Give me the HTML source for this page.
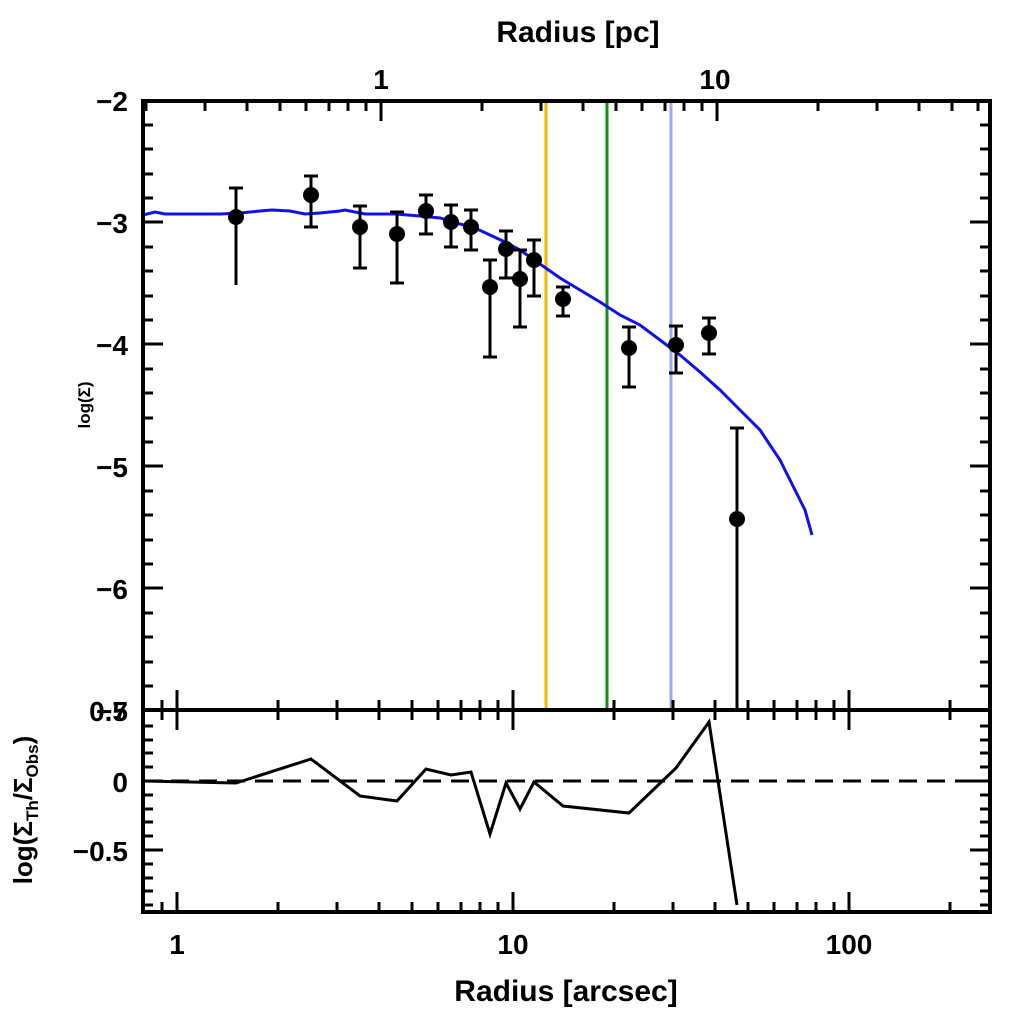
<!DOCTYPE html>
<html><head><meta charset="utf-8"><style>html,body{margin:0;padding:0;background:#fff}</style></head>
<body>
<svg width="1024" height="1024" viewBox="0 0 1024 1024" xmlns="http://www.w3.org/2000/svg" font-family="Liberation Sans, sans-serif" font-weight="bold">
<rect width="1024" height="1024" fill="#fff"/>
<line x1="546" y1="101" x2="546" y2="710" stroke="#f5b800" stroke-width="3"/>
<line x1="607" y1="101" x2="607" y2="710" stroke="#1a8a1a" stroke-width="3"/>
<line x1="671" y1="101" x2="671" y2="710" stroke="#9aa8f0" stroke-width="3"/>
<polyline fill="none" stroke="#1010ee" stroke-width="3" points="143,215 155,212 165,214 180,214 220,214 240,213 260,211 272,210 290,211 305,214 320,213 340,211 345,210 365,214 395,214 420,216 440,218 460,224 475,228 490,235 505,242 520,250 540,264 560,278 580,290 600,302 620,315 640,325 660,340 680,355 700,372 720,390 740,410 760,430 780,460 795,490 805,510 812,535"/>
<g stroke="#000" stroke-width="3">
<path d="M236,188V285M229,188H243M311,176V227M304,176H318M304,227H318M360,206V268M353,206H367M353,268H367M397,212V283M390,212H404M390,283H404M426,195V234M419,195H433M419,234H433M451,205V247M444,205H458M444,247H458M471,210V250M464,210H478M464,250H478M490,260V357M483,260H497M483,357H497M506,231V278M499,231H513M499,278H513M520,250V327M513,250H527M513,327H527M534,240V296M527,240H541M527,296H541M563,287V316M556,287H570M556,316H570M629,327V387M622,327H636M622,387H636M676,326V373M669,326H683M669,373H683M709,318V354M702,318H716M702,354H716M737,428V712M730,428H744"/>
</g>
<g fill="#000">
<circle cx="236" cy="217" r="8"/><circle cx="311" cy="195" r="8"/><circle cx="360" cy="227" r="8"/><circle cx="397" cy="234" r="8"/><circle cx="426" cy="211" r="8"/><circle cx="451" cy="222" r="8"/><circle cx="471" cy="227" r="8"/><circle cx="490" cy="287" r="8"/><circle cx="506" cy="249" r="8"/><circle cx="520" cy="279" r="8"/><circle cx="534" cy="260" r="8"/><circle cx="563" cy="299" r="8"/><circle cx="629" cy="348" r="8"/><circle cx="676" cy="345" r="8"/><circle cx="709" cy="333" r="8"/><circle cx="737" cy="519" r="8"/>
</g>
<line x1="143" y1="781" x2="990" y2="781" stroke="#000" stroke-width="3" stroke-dasharray="18,10"/>
<polyline fill="none" stroke="#000" stroke-width="3" points="143,781 236,783 311,759 360,796 397,801 426,769 451,775 471,772 490,834 506,783 520,809 534,782 563,806 629,813 676,768 709,722 737,905"/>
<g fill="none" stroke="#000" stroke-width="4">
<rect x="143" y="101" width="847" height="609"/>
<rect x="143" y="710" width="847" height="202"/>
</g>
<g stroke="#000" stroke-width="3">
<path d="M143,222h20M143,344h20M143,466h20M143,588h20M990,222h-20M990,344h-20M990,466h-20M990,588h-20"/>
<path d="M143,125h10M143,149h10M143,174h10M143,198h10M143,247h10M143,271h10M143,296h10M143,320h10M143,369h10M143,393h10M143,418h10M143,442h10M143,491h10M143,515h10M143,540h10M143,564h10M143,613h10M143,637h10M143,662h10M143,686h10
M990,125h-10M990,149h-10M990,174h-10M990,198h-10M990,247h-10M990,271h-10M990,296h-10M990,320h-10M990,369h-10M990,393h-10M990,418h-10M990,442h-10M990,491h-10M990,515h-10M990,540h-10M990,564h-10M990,613h-10M990,637h-10M990,662h-10M990,686h-10"/>
<path d="M381,101v20M717,101v20M146,101v10M205,101v10M247,101v10M280,101v10M306,101v10M329,101v10M348,101v10M366,101v10M482,101v10M541,101v10M583,101v10M616,101v10M642,101v10M665,101v10M684,101v10M702,101v10M818,101v10M877,101v10M919,101v10M952,101v10M978,101v10"/>
<path d="M177,690v20M513,690v20M849,690v20M162,700v10M278,700v10M337,700v10M379,700v10M412,700v10M438,700v10M461,700v10M480,700v10M498,700v10M614,700v10M673,700v10M715,700v10M748,700v10M774,700v10M797,700v10M816,700v10M834,700v10M950,700v10"/>
<path d="M177,710v20M513,710v20M849,710v20M162,710v10M278,710v10M337,710v10M379,710v10M412,710v10M438,710v10M461,710v10M480,710v10M498,710v10M614,710v10M673,710v10M715,710v10M748,710v10M774,710v10M797,710v10M816,710v10M834,710v10M950,710v10"/>
<path d="M177,912v-20M513,912v-20M849,912v-20M162,912v-10M278,912v-10M337,912v-10M379,912v-10M412,912v-10M438,912v-10M461,912v-10M480,912v-10M498,912v-10M614,912v-10M673,912v-10M715,912v-10M748,912v-10M774,912v-10M797,912v-10M816,912v-10M834,912v-10M950,912v-10"/>
<path d="M143,781h20M143,850h20M990,781h-20M990,850h-20"/>
<path d="M143,726h10M143,740h10M143,753h10M143,767h10M143,795h10M143,809h10M143,822h10M143,836h10M143,864h10M143,878h10M143,891h10M143,905h10
M990,726h-10M990,740h-10M990,753h-10M990,767h-10M990,795h-10M990,809h-10M990,822h-10M990,836h-10M990,864h-10M990,878h-10M990,891h-10M990,905h-10"/>
</g>
<g font-size="28" fill="#000" text-anchor="end">
<text x="128" y="111">−2</text>
<text x="128" y="233">−3</text>
<text x="128" y="355">−4</text>
<text x="128" y="477">−5</text>
<text x="128" y="599">−6</text>
<text x="128" y="721">−7</text>
<text x="128" y="721">0.5</text>
<text x="128" y="792">0</text>
<text x="128" y="861">−0.5</text>
</g>
<g font-size="28" fill="#000" text-anchor="middle">
<text x="177" y="954">1</text>
<text x="513" y="954">10</text>
<text x="849" y="954">100</text>
<text x="381" y="89">1</text>
<text x="715" y="89">10</text>
<text x="566" y="1001" font-size="30">Radius [arcsec]</text>
<text x="578" y="42" font-size="30">Radius [pc]</text>
</g>
<text transform="translate(90,405) rotate(-90)" font-size="17" text-anchor="middle">log(Σ)</text>
<text transform="translate(32,810) rotate(-90)" font-size="26" text-anchor="middle">log(Σ<tspan font-size="17" dy="6">Th</tspan><tspan dy="-6">/Σ</tspan><tspan font-size="17" dy="6">Obs</tspan><tspan dy="-6">)</tspan></text>
</svg>
</body></html>
